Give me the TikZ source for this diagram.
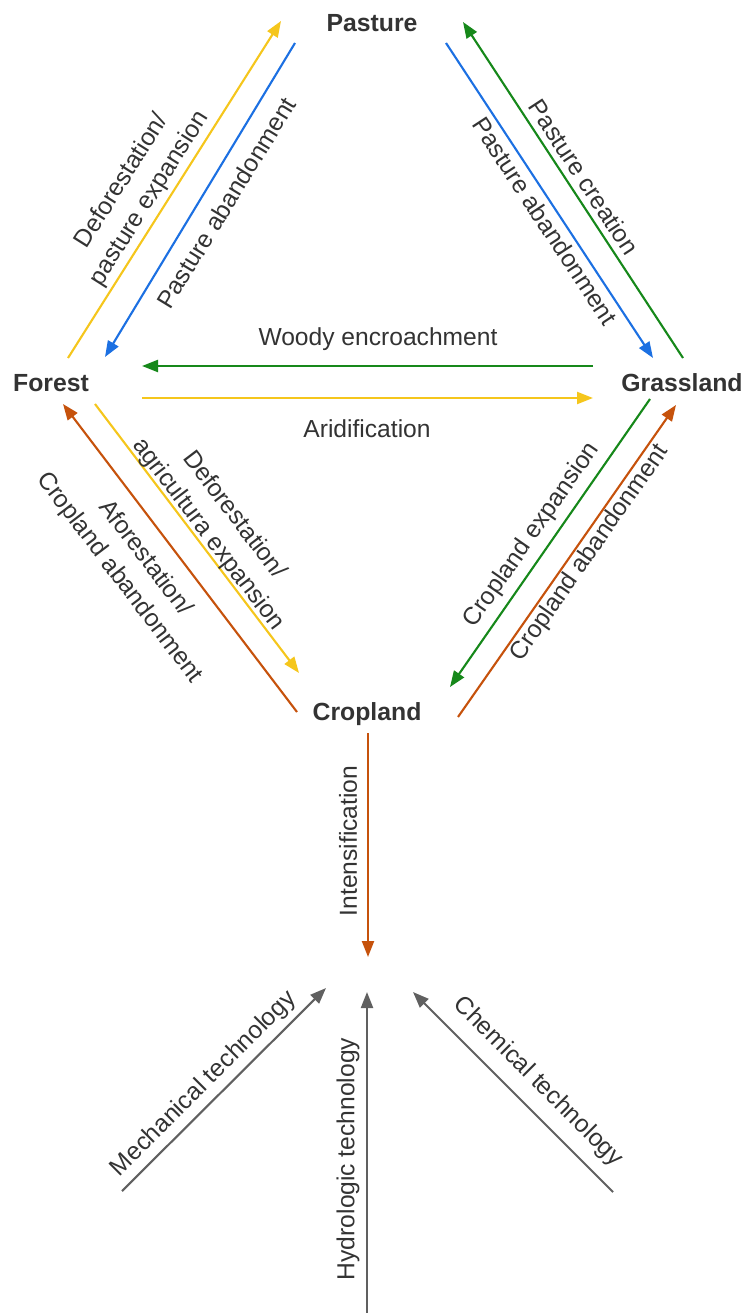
\documentclass[tikz,border=0pt]{standalone}
\usepackage{fontspec}
\setmainfont{Liberation Sans}
\usetikzlibrary{arrows.meta}
\definecolor{cyel}{RGB}{245,198,28}
\definecolor{cblu}{RGB}{28,112,226}
\definecolor{cgrn}{RGB}{22,136,26}
\definecolor{corg}{RGB}{198,82,12}
\definecolor{cgry}{RGB}{96,96,96}
\definecolor{ctxt}{RGB}{51,51,51}
\tikzset{
  land/.style={font=\fontsize{7.05}{8.4}\selectfont\bfseries, text=ctxt, inner sep=0pt},
  lbl/.style={font=\fontsize{7.0}{9.2}\selectfont, text=ctxt, inner sep=0pt, align=center},
  arr/.style={line width=0.6pt, -{Triangle[length=0.16cm,width=0.12cm]}},
}
\begin{document}
\begin{tikzpicture}[x=0.01cm,y=-0.01cm]
\useasboundingbox (0,0) rectangle (747,1313);
% land nodes
\node[land] (pasture) at (372,23) {Pasture};
\node[land] (forest) at (51,383) {Forest};
\node[land] (grass) at (682,383) {Grassland};
\node[land] (crop) at (367,714) {Cropland};
% arrow end points
\coordinate (fp1) at (68,358);   \coordinate (fp2) at (281,21);
\coordinate (pf1) at (295,43);   \coordinate (pf2) at (105,357);
\coordinate (pg1) at (446,43);   \coordinate (pg2) at (653,358);
\coordinate (gp1) at (683,358);  \coordinate (gp2) at (463,22);
\coordinate (gf1) at (593,366);  \coordinate (gf2) at (142,366);
\coordinate (fg1) at (142,398);  \coordinate (fg2) at (593,398);
\coordinate (fc1) at (95,404);   \coordinate (fc2) at (299,673);
\coordinate (cf1) at (297,712);  \coordinate (cf2) at (63,404);
\coordinate (gc1) at (650,399);  \coordinate (gc2) at (450,687);
\coordinate (cg1) at (458,717);  \coordinate (cg2) at (676,405);
\coordinate (in1) at (368,733);  \coordinate (target) at (368,957);
\coordinate (me1) at (122,1191); \coordinate (me2) at (326,988);
\coordinate (hy1) at (367,1313); \coordinate (hy2) at (367,992);
\coordinate (ch1) at (613,1192); \coordinate (ch2) at (413,992);
% arrows
\draw[arr, cyel] (fp1) -- (fp2);
\draw[arr, cblu] (pf1) -- (pf2);
\draw[arr, cblu] (pg1) -- (pg2);
\draw[arr, cgrn] (gp1) -- (gp2);
\draw[arr, cgrn] (gf1) -- (gf2);
\draw[arr, cyel] (fg1) -- (fg2);
\draw[arr, cyel] (fc1) -- (fc2);
\draw[arr, corg] (cf1) -- (cf2);
\draw[arr, cgrn] (gc1) -- (gc2);
\draw[arr, corg] (cg1) -- (cg2);
\draw[arr, corg] (in1) -- (target);
\draw[arr, cgry] (me1) -- (me2);
\draw[arr, cgry] (hy1) -- (hy2);
\draw[arr, cgry] (ch1) -- (ch2);
% labels
\node[lbl, rotate=57.7] (l1) at (136,190) {Deforestation/\\pasture expansion};
\node[lbl, rotate=58.5] (l2) at (226,203) {Pasture abandonment};
\node[lbl, rotate=-56.8] (l3) at (584,177) {Pasture creation};
\node[lbl, rotate=-56.7] (l4) at (545,221) {Pasture abandonment};
\node[lbl] (l5) at (378,339) {Woody encroachment};
\node[lbl] (l6) at (367,429) {Aridification};
\node[lbl, rotate=-52.8] (l7) at (221,525) {Deforestation/\\agricultura expansion};
\node[lbl, rotate=-52.8] (l8) at (132,568) {Aforestation/\\Cropland abandonment};
\node[lbl, rotate=55.2] (l9) at (532,535) {Cropland expansion};
\node[lbl, rotate=55.1] (l10) at (590,553) {Cropland abandonment};
\node[lbl, rotate=90] (l11) at (348,841) {Intensification};
\node[lbl, rotate=45] (l12) at (204,1084) {Mechanical technology};
\node[lbl, rotate=90] (l13) at (348,1159) {Hydrologic technology};
\node[lbl, rotate=-45] (l14) at (538,1082) {Chemical technology};
\end{tikzpicture}
\end{document}
